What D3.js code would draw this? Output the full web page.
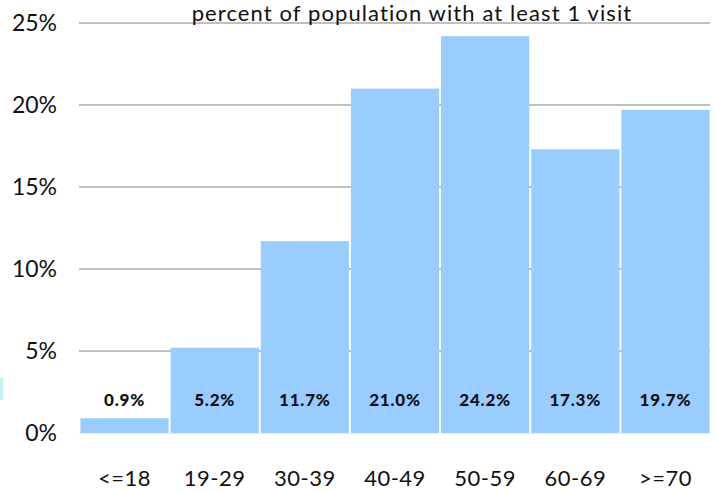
<!DOCTYPE html>
<html><head><meta charset="utf-8">
<script src="https://cdn.jsdelivr.net/npm/d3@7"></script>
<style>
html,body{margin:0;padding:0;background:#fff;}
svg{display:block;}
text{font-family:"Gill Sans","Gill Sans MT","Lato",sans-serif;}
</style></head><body>
<svg id="c" width="716" height="491"></svg>
<script>
const categories = ["<=18","19-29","30-39","40-49","50-59","60-69",">=70"];
const values = [0.9,5.2,11.7,21.0,24.2,17.3,19.7];
const valueLabels = ["0.9%","5.2%","11.7%","21.0%","24.2%","17.3%","19.7%"];
const yTicks = [0,5,10,15,20,25];
const title = "percent of population with at least 1 visit";

const FONT = '"Gill Sans","Gill Sans MT","Lato",sans-serif';
const svg = d3.select("#c");
const x = d3.scaleBand().domain(categories).range([80,710]).paddingInner(0.022).paddingOuter(0.005);
const y = d3.scaleLinear().domain([0,25]).range([433,23]);

// left cyan marker
svg.append("rect").attr("x",0).attr("y",378).attr("width",3).attr("height",22).attr("fill","#c4f0f4");

// gridlines
svg.append("g").selectAll("line").data(yTicks.filter(d=>d>0)).join("line")
  .attr("x1",79).attr("x2",710).attr("y1",d=>y(d)).attr("y2",d=>y(d))
  .attr("stroke","#c0c0c0").attr("stroke-width",2);
svg.append("line").attr("x1",79).attr("x2",710).attr("y1",y(0)+0.5).attr("y2",y(0)+0.5)
  .attr("stroke","#eeeeee").attr("stroke-width",1);

// y labels
const yAxis = d3.axisLeft(y).tickValues(yTicks).tickFormat(d=>d+"%").tickSize(0).tickPadding(0);
const ga = svg.append("g").attr("transform","translate(57,0)").call(yAxis);
ga.attr("font-family",FONT).attr("font-size",23);
ga.select(".domain").remove();
ga.selectAll("text").attr("fill","#111").attr("dy","0.33em");

// bars
svg.append("g").selectAll("rect").data(values).join("rect")
  .attr("x",(d,i)=>x(categories[i])).attr("width",x.bandwidth())
  .attr("y",d=>y(d)).attr("height",d=>y(0)-y(d))
  .attr("fill","#99ccff");

// value labels
svg.append("g").selectAll("text").data(valueLabels).join("text")
  .attr("x",(d,i)=>x(categories[i])+x.bandwidth()/2).attr("y",406)
  .attr("text-anchor","middle").attr("font-size",17).attr("font-weight",900)
  .attr("letter-spacing",0.8).attr("fill","#111")
  .text(d=>d);

// x labels
const xAxis = d3.axisBottom(x).tickSize(0).tickPadding(0);
const gx = svg.append("g").attr("transform","translate(0,486)").call(xAxis);
gx.attr("font-family",FONT).attr("font-size",22);
gx.select(".domain").remove();
gx.selectAll("text").attr("fill","#111").attr("dy",0).attr("letter-spacing",0.5);

// title
svg.append("text").attr("x",412).attr("y",21).attr("text-anchor","middle")
  .attr("font-size",22).attr("letter-spacing",1.1).attr("fill","#111").text(title);
</script></body></html>
